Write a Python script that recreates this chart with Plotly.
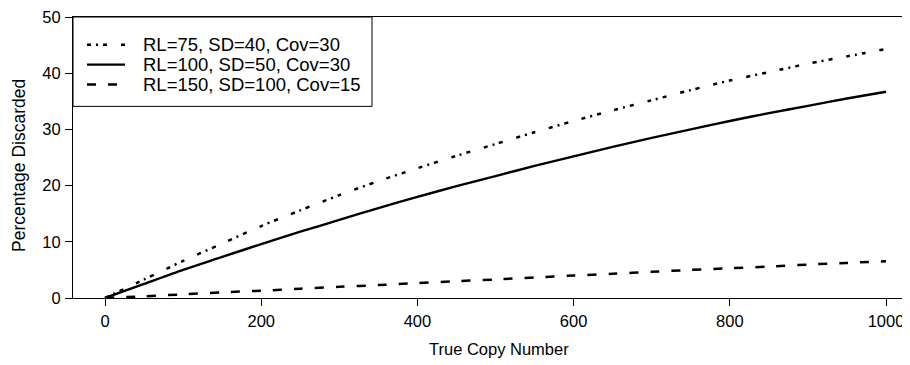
import plotly.graph_objects as go

# ---- data ----
copy_number = [0, 50, 100, 150, 200, 250, 300, 350, 400, 450, 500,
               550, 600, 650, 700, 750, 800, 850, 900, 950, 1000]
series_names = ["RL=75, SD=40, Cov=30",
                "RL=100, SD=50, Cov=30",
                "RL=150, SD=100, Cov=15"]
pct_rl75 = [0, 3.3, 6.6, 9.7, 12.8, 15.6, 18.3, 20.8, 23.1, 25.3, 27.4,
            29.5, 31.5, 33.4, 35.2, 37.0, 38.7, 40.2, 41.7, 43.0, 44.3]
pct_rl100 = [0, 2.5, 5.0, 7.3, 9.6, 11.8, 13.9, 16.0, 18.0, 19.9, 21.7,
             23.5, 25.2, 26.9, 28.5, 30.0, 31.5, 32.9, 34.2, 35.5, 36.7]
pct_rl150 = [0, 0.3, 0.65, 1.0, 1.3, 1.65, 2.0, 2.3, 2.65, 3.0, 3.3,
             3.65, 4.0, 4.3, 4.65, 5.0, 5.3, 5.6, 5.95, 6.25, 6.55]
x_ticks = [0, 200, 400, 600, 800, 1000]
y_ticks = [0, 10, 20, 30, 40, 50]

# ---- layout geometry (screen pixels) ----
OFF = 8                      # default page body margin of the html page
W, H = 910 - OFF, 365 - OFF  # figure size so it fills the window
L, R, T, B = 73, 910, 15, 298  # plot area in screen pixels
PW, PH = R - L, B - T

def px(xp):
    return (xp - L) / PW

def py(yp):
    return (B - yp) / PH

FONT = "Liberation Sans, Arial, Helvetica, sans-serif"
dash_styles = ["4px,5px,2px,5px,4px,14px", "solid", "9px,12px"]
widths = [2.5, 2.4, 2.5]
series = [pct_rl75, pct_rl100, pct_rl150]

fig = go.Figure()
for name, ys, d, w in zip(series_names, series, dash_styles, widths):
    fig.add_trace(go.Scatter(x=copy_number, y=ys, mode="lines", name=name,
                             line=dict(color="black", width=w, dash=d,
                                       shape="spline", smoothing=0.8),
                             showlegend=False))

shapes = []
annotations = []
# legend box
shapes.append(dict(type="rect", xref="paper", yref="paper",
                   x0=px(73), x1=px(372), y0=py(105), y1=py(15),
                   line=dict(color="black", width=1), fillcolor="white",
                   layer="above"))
for i, (name, d, w) in enumerate(zip(series_names, dash_styles, widths)):
    yc = 43 + 20 * i
    shapes.append(dict(type="line", xref="paper", yref="paper",
                       x0=px(87), x1=px(125), y0=py(yc), y1=py(yc),
                       line=dict(color="black", width=w, dash=d),
                       layer="above"))
    annotations.append(dict(text=name, xref="paper", yref="paper",
                            x=px(141), y=py(yc), xanchor="left",
                            yanchor="middle", showarrow=False,
                            font=dict(family=FONT, size=18.5, color="black")))

# axis titles
annotations.append(dict(text="True Copy Number", xref="paper", yref="paper",
                        x=px(499), y=py(349), xanchor="center",
                        yanchor="middle", showarrow=False,
                        font=dict(family=FONT, size=16.5, color="black")))
annotations.append(dict(text="Percentage Discarded", xref="paper",
                        yref="paper", x=px(19), y=py(165), xanchor="center",
                        yanchor="middle", textangle=-90, showarrow=False,
                        font=dict(family=FONT, size=17.5, color="black")))

fig.update_layout(
    width=W, height=H,
    margin=dict(l=L - OFF, r=0, t=T - OFF, b=H - (B - OFF), pad=0),
    paper_bgcolor="white", plot_bgcolor="white",
    font=dict(family=FONT, size=16.5, color="black"),
    shapes=shapes, annotations=annotations,
    showlegend=False,
)
fig.update_xaxes(range=[-41, 1030.7], tickvals=x_ticks,
                 ticktext=[str(v) for v in x_ticks],
                 showgrid=False, zeroline=False,
                 showline=True, linecolor="black", linewidth=1, mirror=True,
                 ticks="outside", ticklen=7, tickwidth=1, tickcolor="black",
                 ticklabelstandoff=1, ticklabeloverflow="allow",
                 tickfont=dict(family=FONT, size=16.5, color="black"))
fig.update_yaxes(range=[0, 50.01], tickvals=y_ticks,
                 ticktext=[str(v) for v in y_ticks],
                 showgrid=False, zeroline=False,
                 showline=True, linecolor="black", linewidth=1, mirror=False,
                 ticks="outside", ticklen=7, tickwidth=1, tickcolor="black",
                 ticklabelstandoff=1, ticklabeloverflow="allow",
                 tickfont=dict(family=FONT, size=16.5, color="black"))

fig.write_html("out.html")
